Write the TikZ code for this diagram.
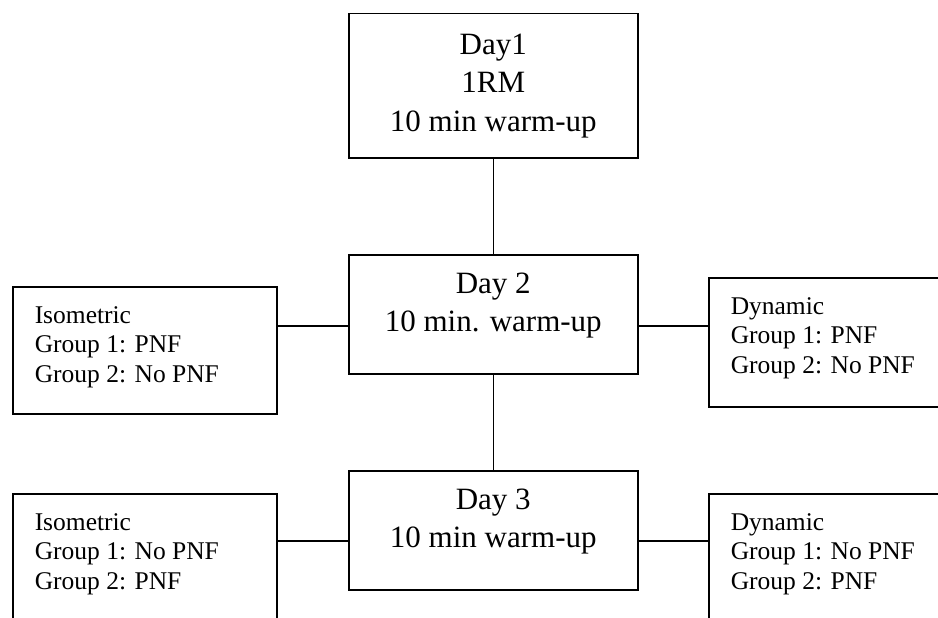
\documentclass[tikz,border=0pt]{standalone}
\usepackage{fontspec}
\setmainfont{Liberation Serif}
\usetikzlibrary{positioning}
\newcommand{\daytext}[3]{\parbox[c][#1][t]{289pt}{\centering\vspace*{#2}#3}}
\newcommand{\grouptext}[2]{\parbox[c][#1][t]{264pt}{\leftskip=22pt\vspace*{19.5pt}#2}}

\begin{document}
\begin{tikzpicture}[x=1pt,y=-1pt,
  daybox/.style={draw,line width=1.5pt,inner sep=0pt,anchor=north west,
    font=\fontsize{31}{38.5}\selectfont},
  groupbox/.style={draw,line width=1.5pt,inner sep=0pt,anchor=north west,
    font=\fontsize{25.5}{29.5}\selectfont},
  link/.style={line width=1.5pt}]
  \clip (0,0) rectangle (938,618);

  % days
  \node[daybox] (day1) at (348,13)
    {\daytext{144pt}{20pt}{Day1\\1RM\\10 min warm-up}};
  \node[daybox] (day2) at (348,254)
    {\daytext{119pt}{18pt}{Day 2\\10 min. warm-up}};
  \node[daybox] (day3) at (348,470)
    {\daytext{119pt}{18pt}{Day 3\\10 min warm-up}};

  % groups
  \node[groupbox] (iso2) at (12,286)
    {\grouptext{127pt}{Isometric\\Group 1: PNF\\Group 2: No PNF}};
  \node[groupbox] (dyn2) at (708,277)
    {\grouptext{129pt}{Dynamic\\Group 1: PNF\\Group 2: No PNF}};
  \node[groupbox] (iso3) at (12,493)
    {\grouptext{150pt}{Isometric\\Group 1: No PNF\\Group 2: PNF}};
  \node[groupbox] (dyn3) at (708,493)
    {\grouptext{150pt}{Dynamic\\Group 1: No PNF\\Group 2: PNF}};

  \coordinate (row2) at (0,326);
  \coordinate (row3) at (0,541);
  \draw[link] (day1) -- (day2);
  \draw[link] (day2) -- (day3);
  \draw[link] (iso2.east |- row2) -- (day2.west |- row2);
  \draw[link] (day2.east |- row2) -- (dyn2.west |- row2);
  \draw[link] (iso3.east |- row3) -- (day3.west |- row3);
  \draw[link] (day3.east |- row3) -- (dyn3.west |- row3);
\end{tikzpicture}
\end{document}
